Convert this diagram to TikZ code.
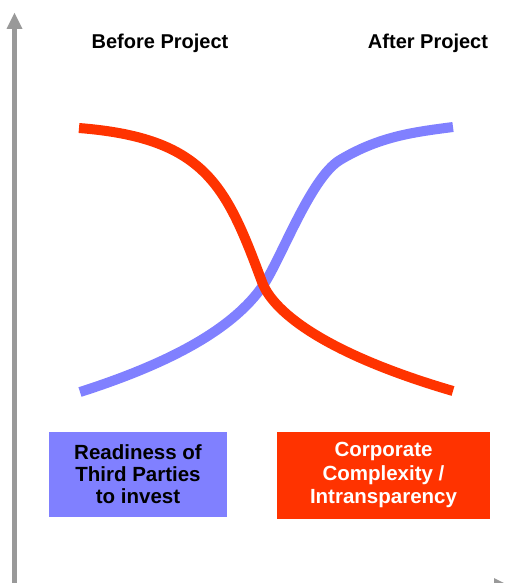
\documentclass[tikz,border=0pt]{standalone}
\usepackage{fontspec}
\setmainfont{Liberation Sans}
\usetikzlibrary{arrows.meta}
\definecolor{axisgray}{HTML}{999999}
\definecolor{curveblue}{HTML}{8080FF}
\definecolor{curvered}{HTML}{FF3300}
\begin{document}
\begin{tikzpicture}[x=1pt,y=-1pt,
  axisline/.style={draw=axisgray,line width=5pt,-{Triangle[length=16pt,width=16pt,line width=0pt]}},
  curve/.style={line width=10pt,line cap=butt},
  header/.style={font=\fontsize{20}{23}\selectfont\bfseries,anchor=center},
  legendbox/.style={rectangle,inner sep=0pt,align=center}]
\useasboundingbox (0,0) rectangle (506,583);
\clip (0,0) rectangle (506,583);
% axes
\coordinate (origin) at (14.5,586);
\coordinate (ytip) at (14.5,13);
\coordinate (xtip) at (510,586);
\draw[axisline] (origin) -- (ytip);
\draw[axisline] (origin) -- (xtip);
% headers
\node[header] (before) at (160,43) {Before Project};
\node[header] (after) at (428,43) {After Project};
% blue curve
\coordinate (bstart) at (80,392);
\coordinate (bcross) at (262,287);
\coordinate (bknee) at (340,160);
\coordinate (bend) at (453,127);
\draw[curve,draw=curveblue] (bstart) .. controls (180,360) and (235,325) .. (bcross)
  .. controls (280,262) and (310,178) .. (bknee)
  .. controls (380,136) and (415,132) .. (bend);
% red curve
\coordinate (rstart) at (79,128);
\coordinate (rcross) at (262,282);
\coordinate (rend) at (453,391);
\draw[curve,draw=curvered] (rstart) .. controls (205,138) and (226,185) .. (rcross)
  .. controls (274,314) and (330,355) .. (rend);
% boxes
\node[legendbox,fill=curveblue,text=black,minimum width=178pt,minimum height=85pt,
  font=\fontsize{20.5}{22}\selectfont\bfseries] (readiness) at (138,474.5) {Readiness of\\Third Parties\\to invest};
\node[legendbox,fill=curvered,text=white,minimum width=213pt,minimum height=87pt,
  font=\fontsize{20.5}{23.5}\selectfont\bfseries] (complexity) at (383.5,475) {Corporate\\Complexity /\\Intransparency};
\end{tikzpicture}
\end{document}
